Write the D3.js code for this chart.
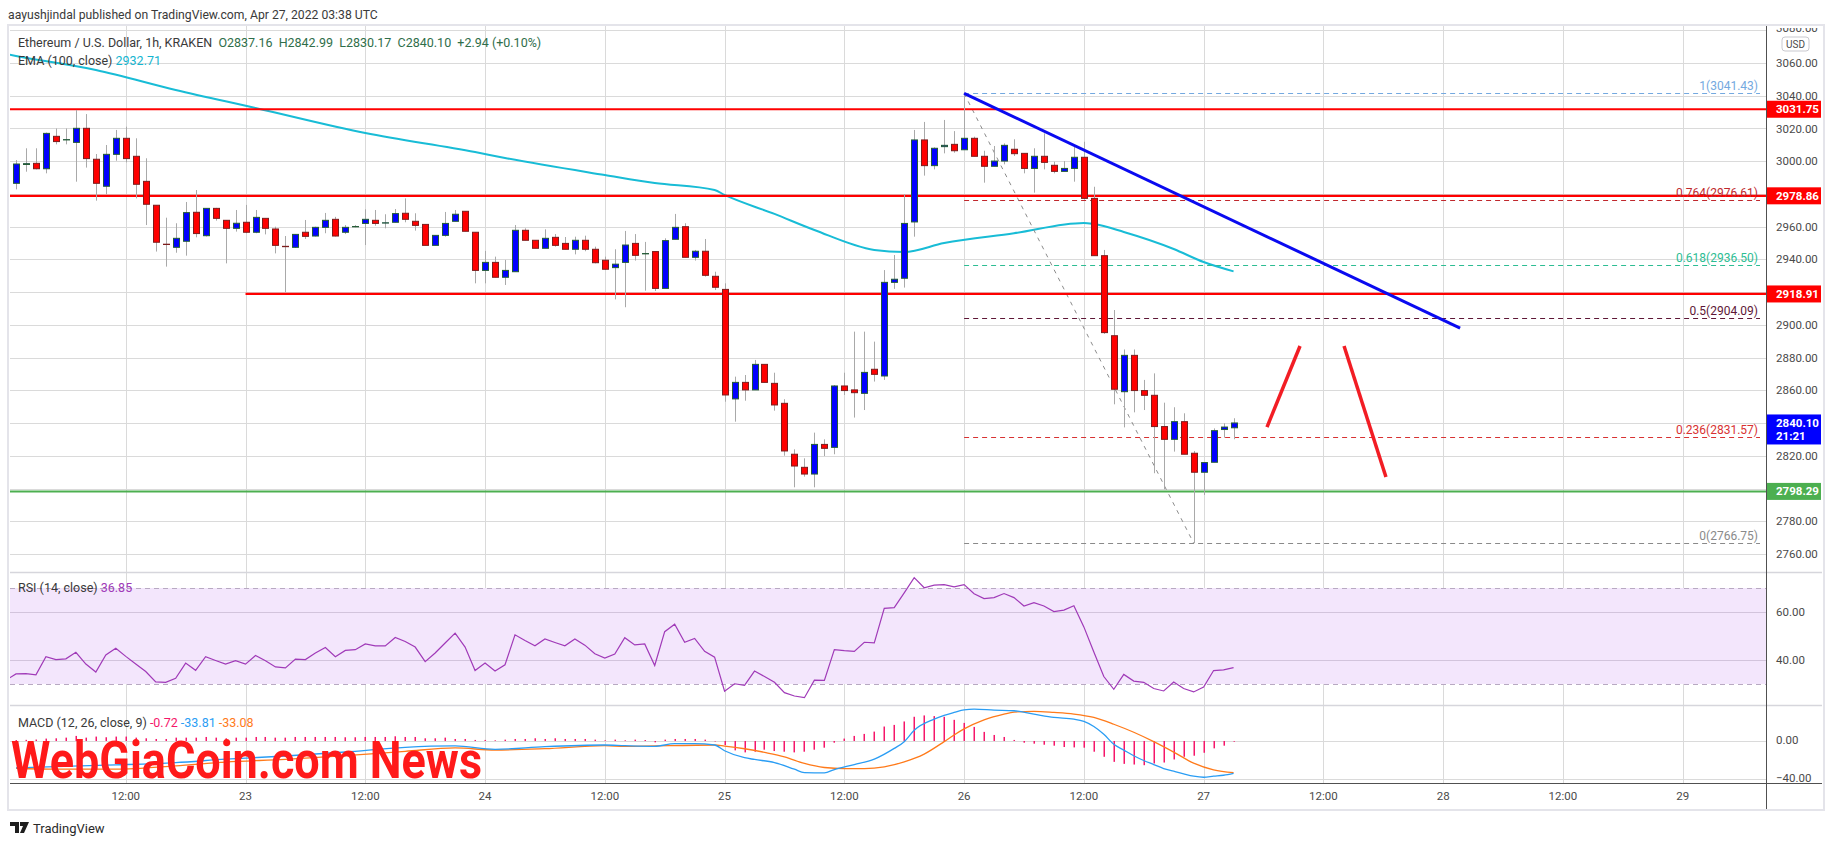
<!DOCTYPE html>
<html>
<head>
<meta charset="utf-8">
<script src="https://cdn.jsdelivr.net/npm/d3@7"></script>
<style>
  body { margin: 0; background: #fff; }
  text { font-family: Roboto, "Noto Sans", sans-serif; }
</style>
</head>
<body>
<svg id="chart" width="1834" height="845"></svg>
<script>
// ETH/USD 1h candles, first bar Apr 22 01:00 UTC
const firstBar = Date.UTC(2022, 3, 22, 1)
const HOUR = 3600 * 1000

const opens = [2986.5, 2998.0, 2998.7, 2995.4, 3015.2, 3013.0, 3011.5, 3020.1, 3001.2, 2984.7,
  3004.2, 3014.0, 3003.0, 2987.7, 2973.1, 2949.3, 2947.4, 2951.1, 2968.8, 2954.5,
  2971.2, 2963.9, 2959.0, 2962.7, 2956.6, 2965.1, 2958.6, 2948.0, 2947.4, 2956.6,
  2954.3, 2959.6, 2964.5, 2956.6, 2960.0, 2962.0, 2963.9, 2962.2, 2962.7, 2968.2,
  2963.3, 2961.4, 2948.6, 2954.7, 2963.3, 2969.4, 2956.6, 2933.3, 2938.2, 2929.1,
  2932.5, 2957.8, 2951.7, 2946.8, 2953.5, 2949.8, 2946.2, 2951.7, 2946.2, 2939.5,
  2935.0, 2938.2, 2949.8, 2943.4, 2944.8, 2922.3, 2952.3, 2960.0, 2941.3, 2945.0,
  2929.7, 2921.7, 2854.8, 2864.9, 2860.3, 2875.9, 2864.3, 2852.1, 2821.0, 2813.0,
  2808.9, 2827.0, 2825.2, 2862.7, 2860.3, 2858.2, 2872.9, 2868.8, 2926.0, 2928.5,
  2962.9, 3013.0, 2997.3, 3008.9, 3010.3, 3007.0, 3014.0, 3003.0, 2996.9, 3000.1,
  3007.3, 3004.8, 2995.6, 3003.0, 2997.5, 2993.8, 2995.6, 3002.4, 2977.3, 2942.3,
  2893.4, 2859.2, 2881.4, 2859.9, 2857.0, 2837.9, 2830.1, 2840.9, 2821.6, 2810.0,
  2816.1, 2836.1, 2837.16]
const highs = [3000.7, 3007.9, 3007.9, 3017.5, 3020.0, 3020.0, 3031.3, 3028.8, 3004.4, 3009.9,
  3019.1, 3021.1, 3014.0, 3001.8, 2973.1, 2965.5, 2962.1, 2975.1, 2982.4, 2971.2,
  2971.5, 2964.0, 2970.2, 2973.3, 2970.2, 2965.1, 2960.0, 2954.3, 2955.5, 2964.1,
  2960.0, 2968.4, 2966.0, 2961.0, 2961.0, 2970.6, 2970.2, 2967.6, 2970.8, 2977.3,
  2968.2, 2961.4, 2954.7, 2969.0, 2970.2, 2969.4, 2956.6, 2945.2, 2941.7, 2939.7,
  2961.0, 2959.0, 2951.7, 2958.4, 2955.5, 2953.7, 2953.9, 2954.5, 2947.8, 2941.7,
  2946.2, 2957.4, 2955.5, 2950.7, 2944.8, 2952.9, 2967.8, 2962.1, 2945.8, 2952.5,
  2932.5, 2925.4, 2868.4, 2869.4, 2878.6, 2875.9, 2870.8, 2854.6, 2824.0, 2818.5,
  2834.2, 2830.1, 2863.3, 2870.8, 2895.9, 2895.9, 2889.8, 2933.5, 2942.7, 2979.8,
  3019.1, 3024.0, 3008.5, 3025.2, 3018.4, 3041.43, 3015.0, 3006.4, 3009.3, 3010.9,
  3013.4, 3004.8, 3007.9, 3017.0, 2999.7, 3000.1, 3008.9, 3011.9, 2984.4, 2945.8,
  2909.1, 2885.0, 2885.0, 2866.4, 2870.4, 2852.5, 2849.7, 2846.0, 2823.0, 2815.9,
  2836.8, 2839.9, 2842.99]
const lows = [2982.8, 2993.6, 2995.0, 2992.6, 3010.3, 3010.3, 2987.5, 2996.1, 2975.9, 2979.8,
  3000.3, 2999.3, 2977.3, 2961.0, 2944.8, 2935.6, 2944.1, 2942.3, 2953.5, 2954.0,
  2963.7, 2937.6, 2957.0, 2956.0, 2956.0, 2955.3, 2943.7, 2919.9, 2947.0, 2952.5,
  2954.0, 2956.0, 2954.0, 2955.5, 2959.6, 2948.8, 2960.6, 2959.0, 2962.6, 2962.7,
  2957.6, 2948.6, 2948.6, 2953.9, 2963.3, 2957.2, 2925.4, 2925.4, 2929.1, 2924.4,
  2932.5, 2951.7, 2946.8, 2946.8, 2947.8, 2946.2, 2943.1, 2945.0, 2937.6, 2933.6,
  2915.6, 2910.8, 2939.3, 2920.9, 2920.7, 2922.3, 2952.3, 2941.3, 2939.3, 2929.5,
  2921.3, 2853.1, 2840.9, 2853.7, 2860.3, 2864.9, 2847.6, 2820.1, 2800.8, 2807.3,
  2800.8, 2819.9, 2821.0, 2857.2, 2843.4, 2848.0, 2865.4, 2866.4, 2922.0, 2922.8,
  2953.9, 2991.2, 2995.0, 3004.8, 3005.2, 3007.0, 3003.0, 2986.9, 2996.9, 2998.1,
  3003.2, 2992.6, 2980.8, 2995.0, 2992.6, 2993.8, 2987.5, 2976.7, 2942.3, 2894.5,
  2851.5, 2837.4, 2846.6, 2848.0, 2809.4, 2799.6, 2822.6, 2821.0, 2766.75, 2796.1,
  2816.1, 2831.1, 2830.17]
const closes = [2998.3, 2998.5, 2995.4, 3017.0, 3012.0, 3013.2, 3020.1, 3001.6, 2986.5, 3004.2,
  3014.0, 3001.6, 2985.9, 2973.7, 2950.5, 2949.2, 2952.9, 2968.6, 2955.8, 2971.2,
  2965.1, 2959.0, 2962.1, 2956.6, 2965.7, 2959.0, 2948.6, 2947.8, 2955.3, 2954.1,
  2959.6, 2963.9, 2954.3, 2959.6, 2960.1, 2964.5, 2962.0, 2962.4, 2968.0, 2964.5,
  2960.8, 2948.6, 2954.7, 2962.0, 2967.6, 2957.2, 2933.3, 2938.2, 2929.1, 2933.3,
  2957.8, 2951.7, 2946.8, 2952.9, 2948.6, 2946.2, 2951.7, 2946.2, 2938.0, 2934.0,
  2937.1, 2948.8, 2942.5, 2943.6, 2922.3, 2951.5, 2959.6, 2941.3, 2945.0, 2930.3,
  2923.0, 2857.2, 2864.9, 2860.3, 2875.9, 2864.9, 2851.1, 2823.0, 2813.8, 2808.9,
  2827.0, 2824.6, 2862.7, 2859.9, 2858.6, 2871.0, 2869.8, 2926.0, 2927.9, 2962.0,
  3013.0, 2997.3, 3007.9, 3009.7, 3006.4, 3014.0, 3003.0, 2996.9, 3000.1, 3009.7,
  3004.6, 2995.6, 3003.0, 2999.3, 2993.8, 2995.6, 3002.4, 2977.3, 2942.3, 2895.3,
  2860.7, 2881.4, 2859.9, 2857.0, 2837.9, 2830.1, 2840.9, 2821.0, 2810.0, 2815.9,
  2835.4, 2837.6, 2840.10]

// EMA(100) read at a few bars (bar index, value)
const emaBars = [-1, 0, 8, 16, 24, 35, 46, 49, 59, 64, 70, 71, 76, 80, 86, 89, 93, 100, 107, 108, 111, 116, 119, 122]
const emaValues = [3065.5, 3064.3, 3055.7, 3043.5, 3032.5, 3017.2, 3005.6, 3002.0, 2991.6, 2986.7, 2982.4, 2979.4,
  2967.8, 2958.0, 2945.8, 2944.5, 2950.0, 2956.0, 2962.3, 2961.6, 2956.8, 2946.4, 2938.4, 2932.71]

// RSI of the bar just left of the visible range, then one value per bar
const rsiBefore = 31.6
const rsi = [34.2, 34.3, 33.8, 41.4, 40.2, 40.5, 43.2, 38.3, 35.0, 42.1,
  44.9, 41.5, 38.3, 35.2, 30.9, 30.7, 32.4, 38.7, 35.7, 41.4,
  39.8, 38.3, 39.7, 38.3, 41.9, 39.7, 37.1, 36.7, 40.4, 40.2,
  42.9, 45.2, 41.4, 44.0, 44.3, 46.7, 45.9, 45.9, 49.4, 47.7,
  45.4, 39.3, 42.9, 47.1, 51.2, 45.4, 35.6, 38.7, 35.4, 38.0,
  50.5, 48.1, 45.9, 48.8, 47.3, 45.9, 48.8, 46.2, 42.6, 40.8,
  42.5, 49.3, 46.3, 46.7, 37.7, 51.8, 54.9, 47.4, 49.0, 43.6,
  41.2, 27.0, 30.1, 29.4, 35.4, 33.1, 30.7, 26.4, 25.0, 24.3,
  31.6, 31.5, 44.3, 43.9, 43.6, 47.4, 47.1, 61.5, 61.8, 68.0,
  74.3, 70.1, 71.2, 71.4, 70.5, 71.4, 67.6, 65.6, 66.0, 67.7,
  66.0, 62.5, 63.9, 62.5, 60.2, 60.8, 62.6, 53.8, 43.3, 33.1,
  27.8, 34.0, 31.2, 30.7, 28.1, 27.1, 30.8, 28.1, 26.7, 28.7,
  35.6, 35.9, 36.85]

const macdHist = [1.0, 1.2, 1.5, 2.5, 2.8, 3.5, 5.3, 3.5, 4.6, 3.9,
  4.6, 4.6, 3.5, 2.8, 2.1, 2.1, 3.5, 3.5, 3.5, 4.2,
  3.5, 2.8, 3.5, 3.5, 4.2, 4.2, 3.5, 3.5, 4.2, 4.2,
  4.2, 4.2, 4.2, 3.9, 3.9, 4.2, 4.2, 4.2, 4.9, 4.2,
  4.2, 2.8, 2.8, 3.5, 2.1, 2.1, 1.1, 1.1, 0.7, 1.4,
  2.1, 2.1, 2.8, 2.1, 2.8, 2.1, 2.1, 2.1, 1.4, 0.7,
  1.4, 0.7, 1.4, 1.0, -1.4, 1.4, 2.1, 2.1, 2.1, 1.4,
  -0.5, -4.2, -9.8, -11.9, -11.2, -9.1, -10.5, -11.2, -11.9, -11.2,
  -9.1, -7.0, -1.8, 2.5, 5.3, 7.4, 9.8, 15.1, 16.8, 20.4,
  25.3, 26.7, 26.0, 25.3, 22.1, 18.9, 14.7, 9.5, 6.3, 4.2,
  1.1, -1.8, -2.8, -3.9, -4.9, -6.3, -6.7, -7.0, -11.2, -16.5,
  -21.8, -23.9, -24.6, -25.3, -23.5, -22.5, -19.3, -16.5, -15.4, -12.3,
  -7.7, -4.9, -0.72]

const macdBars = [0, 4, 10, 16, 21, 27, 33, 39, 44, 48, 53, 59, 61, 64, 66, 68, 70, 71, 73, 74, 76, 78, 79, 81, 82,
  84, 86, 88, 89, 90, 92, 93, 94, 95, 96, 98, 100, 102, 104, 106, 107, 108, 109, 110, 111, 112, 113, 114,
  115, 116, 117, 118, 119, 120, 121, 122]
const macdValues = [-28.0, -26.8, -25.0, -22.6, -19.0, -15.7, -11.5, -6.6, -5.2, -8.7, -5.9, -4.2, -4.9, -5.6, -2.8,
  -2.8, -4.2, -10.2, -17.5, -19.3, -22.5, -29.5, -33.0, -33.3, -29.8, -24.6, -18.9, -7.7, -0.7, 11.2, 22.8,
  26.7, 29.8, 32.6, 33.3, 32.3, 31.6, 28.1, 24.6, 22.8, 20.4, 15.1, 7.0, -3.5, -9.5, -15.4, -20.4, -24.6,
  -28.8, -31.6, -34.4, -36.8, -37.9, -36.8, -35.8, -33.81]
const signalBars = [0, 4, 10, 16, 21, 27, 33, 39, 44, 48, 53, 59, 61, 70, 71, 73, 75, 77, 79, 81, 83, 85, 87, 89,
  91, 93, 94, 95, 97, 99, 100, 102, 104, 106, 108, 110, 112, 114, 116, 118, 120, 122]
const signalValues = [-28.5, -29.5, -29.5, -26.0, -22.0, -19.2, -15.4, -10.8, -7.3, -9.4, -8.0, -4.9, -5.6, -4.2,
  -5.3, -8.1, -11.9, -16.5, -23.5, -27.7, -28.8, -28.8, -27.0, -21.8, -13.7, -0.7, 6.3, 12.6, 22.1, 28.1,
  30.2, 30.9, 29.8, 28.1, 24.6, 17.5, 9.1, -0.7, -11.6, -23.2, -30.2, -33.08]

// drawn levels and lines
const redLevels = [3031.75, 2978.86, 2918.91]
const supportLevel = 2798.29
const fibRatios = ['1', '0.764', '0.618', '0.5', '0.236', '0']
const fibPrices = [3041.43, 2976.61, 2936.50, 2904.09, 2831.57, 2766.75]
const fibColors = ['#74a9e0', '#c0282d', '#2dbd93', '#5e1736', '#d83232', '#8a8a8a']
const trendBars = [95, 144.7]
const trendPrices = [3041.43, 2898.1]
const arrowUpBars = [125.35, 128.66]
const arrowUpPrices = [2837.6, 2887.1]
const arrowDownBars = [133.07, 137.27]
const arrowDownPrices = [2887.1, 2807.1]

const priceTicks = d3.range(2760, 3081, 20)
const lastPrice = 2840.10

const barTime = i => new Date(firstBar + i * HOUR)

const svg = d3.select('#chart')
const L = 10, R = 1766, AX = 1822
const priceTop = 26, priceBot = 572, rsiBot = 705, macdBot = 783, chartBot = 809

const x = d3.scaleUtc()
  .domain([new Date(Date.UTC(2022, 3, 22, 0, 24)), new Date(Date.UTC(2022, 3, 29, 8, 21))])
  .range([L, R])
const y = d3.scaleLinear().domain([2749.06, 3082.6]).range([priceBot, priceTop])
const yRsi = d3.scaleLinear().domain([21.25, 76.67]).range([rsiBot, priceBot])
const yMacd = d3.scaleLinear().domain([-43.9, 37.6]).range([macdBot, rsiBot])

const gridColor = '#dadada'

// frame
svg.append('rect').attr('x', 8).attr('y', priceTop - 1).attr('width', AX - 6).attr('height', chartBot - priceTop + 2)
  .attr('fill', '#fff').attr('stroke', '#e4e4ea').attr('stroke-width', 2)

svg.append('text').attr('x', 8).attr('y', 15).attr('dy', '0.35em')
  .attr('font-size', 12.2).attr('fill', '#3a3a3a')
  .text('aayushjindal published on TradingView.com, Apr 27, 2022 03:38 UTC')

const defs = svg.append('defs')
defs.append('clipPath').attr('id', 'clipPrice').append('rect')
  .attr('x', L).attr('y', priceTop).attr('width', R - L).attr('height', priceBot - priceTop)
defs.append('clipPath').attr('id', 'clipRsi').append('rect')
  .attr('x', L).attr('y', priceBot).attr('width', R - L).attr('height', rsiBot - priceBot)
defs.append('clipPath').attr('id', 'clipMacd').append('rect')
  .attr('x', L).attr('y', rsiBot).attr('width', R - L).attr('height', macdBot - rsiBot)
defs.append('clipPath').attr('id', 'clipAxis').append('rect')
  .attr('x', R).attr('y', priceTop + 2).attr('width', AX - R).attr('height', macdBot - priceTop - 2)

// vertical grid
const timeTicks = x.ticks(d3.utcHour.every(12))
svg.append('g').selectAll('line').data(timeTicks).enter().append('line')
  .attr('x1', d => Math.round(x(d)) + 0.5).attr('x2', d => Math.round(x(d)) + 0.5)
  .attr('y1', priceTop).attr('y2', macdBot)
  .attr('stroke', gridColor)

// horizontal price grid
svg.append('g').selectAll('line').data(priceTicks).enter().append('line')
  .attr('x1', L).attr('x2', R)
  .attr('y1', d => Math.round(y(d)) + 0.5).attr('y2', d => Math.round(y(d)) + 0.5)
  .attr('stroke', gridColor)

// RSI pane
const rsiG = svg.append('g').attr('clip-path', 'url(#clipRsi)')
rsiG.append('rect').attr('x', L).attr('width', R - L)
  .attr('y', yRsi(70)).attr('height', yRsi(30) - yRsi(70)).attr('fill', '#f3e6fc')
rsiG.selectAll('line.grid').data([60, 40]).enter().append('line')
  .attr('x1', L).attr('x2', R).attr('y1', d => Math.round(yRsi(d)) + 0.5).attr('y2', d => Math.round(yRsi(d)) + 0.5)
  .attr('stroke', '#d2c4dc')
rsiG.selectAll('line.band').data([70, 30]).enter().append('line')
  .attr('x1', L).attr('x2', R).attr('y1', d => Math.round(yRsi(d)) + 0.5).attr('y2', d => Math.round(yRsi(d)) + 0.5)
  .attr('stroke', '#b8a9c2').attr('stroke-dasharray', '5,4')
const rsiPts = [[-1, rsiBefore]].concat(rsi.map((v, i) => [i, v]))
rsiG.append('path').datum(rsiPts)
  .attr('d', d3.line().x(d => x(barTime(d[0]))).y(d => yRsi(d[1])))
  .attr('fill', 'none').attr('stroke', '#a03ab8').attr('stroke-width', 1.2)

// MACD pane
const macdG = svg.append('g').attr('clip-path', 'url(#clipMacd)')
macdG.selectAll('line.grid').data([0, -40]).enter().append('line')
  .attr('x1', L).attr('x2', R).attr('y1', d => Math.round(yMacd(d)) + 0.5).attr('y2', d => Math.round(yMacd(d)) + 0.5)
  .attr('stroke', gridColor)
macdG.selectAll('rect').data(macdHist).enter().append('rect')
  .attr('x', (d, i) => Math.round(x(barTime(i))) - 0.5)
  .attr('width', 1.5)
  .attr('y', d => Math.min(yMacd(0), yMacd(d)))
  .attr('height', d => Math.abs(yMacd(d) - yMacd(0)))
  .attr('fill', '#f5176a')
macdG.append('path').datum(signalBars)
  .attr('d', d3.line().curve(d3.curveMonotoneX).x(d => x(barTime(d))).y((d, i) => yMacd(signalValues[i])))
  .attr('fill', 'none').attr('stroke', '#ff7a1a').attr('stroke-width', 1.3)
macdG.append('path').datum(macdBars)
  .attr('d', d3.line().curve(d3.curveMonotoneX).x(d => x(barTime(d))).y((d, i) => yMacd(macdValues[i])))
  .attr('fill', 'none').attr('stroke', '#2a9df4').attr('stroke-width', 1.3)

// pane separators
svg.selectAll('line.sep').data([priceBot, rsiBot]).enter().append('line')
  .attr('x1', L).attr('x2', AX).attr('y1', d => d + 0.5).attr('y2', d => d + 0.5)
  .attr('stroke', '#d6d6dc').attr('stroke-width', 1.5)

// price pane
const pg = svg.append('g').attr('clip-path', 'url(#clipPrice)')

pg.append('path').datum(emaBars)
  .attr('d', d3.line().curve(d3.curveMonotoneX).x(d => x(barTime(d))).y((d, i) => y(emaValues[i])))
  .attr('fill', 'none').attr('stroke', '#18bcd6').attr('stroke-width', 2)

// fib retracement
const fibX0 = x(barTime(95)), fibX1 = 1760
pg.selectAll('line.fib').data(fibPrices).enter().append('line')
  .attr('x1', fibX0).attr('x2', fibX1)
  .attr('y1', d => Math.round(y(d)) + 0.5).attr('y2', d => Math.round(y(d)) + 0.5)
  .attr('stroke', (d, i) => fibColors[i]).attr('stroke-dasharray', '5,4')
pg.append('line')
  .attr('x1', x(barTime(95))).attr('y1', y(3041.43))
  .attr('x2', x(barTime(118))).attr('y2', y(2766.75))
  .attr('stroke', '#8c8c8c').attr('stroke-dasharray', '4,5')

// horizontal levels
pg.selectAll('line.lvl').data(redLevels).enter().append('line')
  .attr('x1', (d, i) => i === 2 ? x(barTime(23)) : L).attr('x2', R)
  .attr('y1', d => y(d)).attr('y2', d => y(d))
  .attr('stroke', '#ff0000').attr('stroke-width', 2.2)
pg.append('line').attr('x1', L).attr('x2', R).attr('y1', y(supportLevel)).attr('y2', y(supportLevel))
  .attr('stroke', '#4caf50').attr('stroke-width', 2)

// candles
const candles = opens.map((o, i) => ({ t: barTime(i), o: o, h: highs[i], l: lows[i], c: closes[i] }))
pg.selectAll('line.wick').data(candles).enter().append('line')
  .attr('x1', d => Math.round(x(d.t)) + 0.5).attr('x2', d => Math.round(x(d.t)) + 0.5)
  .attr('y1', d => y(d.h)).attr('y2', d => y(d.l))
  .attr('stroke', '#a9a9a9')
pg.selectAll('rect.body').data(candles).enter().append('rect')
  .attr('x', d => Math.round(x(d.t)) - 2.5)
  .attr('width', 6)
  .attr('y', d => y(Math.max(d.o, d.c)))
  .attr('height', d => Math.max(0.3, Math.abs(y(d.o) - y(d.c))))
  .attr('fill', d => d.c >= d.o ? '#0000ff' : '#ff0000')
  .attr('stroke', d => d.c >= d.o ? '#245c35' : '#7c1d1d')
  .attr('stroke-width', 1)

// trend line and arrows
const drawLine = (bars, prices, color, w) => pg.append('line')
  .attr('x1', x(barTime(bars[0]))).attr('y1', y(prices[0]))
  .attr('x2', x(barTime(bars[1]))).attr('y2', y(prices[1]))
  .attr('stroke', color).attr('stroke-width', w)
drawLine(trendBars, trendPrices, '#0a0af0', 3)
drawLine(arrowUpBars, arrowUpPrices, '#f21d24', 3.5)
drawLine(arrowDownBars, arrowDownPrices, '#f21d24', 3.5)

// fib labels
pg.selectAll('text.fib').data(fibPrices).enter().append('text')
  .attr('x', 1758).attr('y', d => y(d) - 3)
  .attr('text-anchor', 'end').attr('font-size', 12)
  .attr('fill', (d, i) => fibColors[i])
  .text((d, i) => fibRatios[i] + '(' + d3.format('.2f')(d) + ')')

// legends
const legend = svg.append('g').attr('font-size', 12.5)
const l1 = legend.append('text').attr('x', 18).attr('y', 43).attr('dy', '0.35em')
l1.append('tspan').attr('fill', '#3a3a3a').text('Ethereum / U.S. Dollar, 1h, KRAKEN ')
l1.append('tspan').attr('fill', '#2f6e4a').attr('xml:space', 'preserve')
  .text(' O2837.16  H2842.99  L2830.17  C2840.10  +2.94 (+0.10%)')
const l2 = legend.append('text').attr('x', 18).attr('y', 61).attr('dy', '0.35em')
l2.append('tspan').attr('fill', '#3a3a3a').text('EMA (100, close) ')
l2.append('tspan').attr('fill', '#14b5d0').text(' 2932.71')
const l3 = legend.append('text').attr('x', 18).attr('y', 588).attr('dy', '0.35em')
l3.append('tspan').attr('fill', '#3a3a3a').text('RSI (14, close) ')
l3.append('tspan').attr('fill', '#a03ab8').text(' 36.85')
const l4 = legend.append('text').attr('x', 18).attr('y', 723).attr('dy', '0.35em')
l4.append('tspan').attr('fill', '#3a3a3a').text('MACD (12, 26, close, 9) ')
l4.append('tspan').attr('fill', '#f5176a').text('  -0.72 ')
l4.append('tspan').attr('fill', '#2a9df4').text('  -33.81 ')
l4.append('tspan').attr('fill', '#ff7a1a').text('  -33.08')

// right axis
svg.append('line').attr('x1', R + 0.5).attr('x2', R + 0.5).attr('y1', priceTop).attr('y2', chartBot)
  .attr('stroke', '#505050')
svg.append('line').attr('x1', L).attr('x2', AX).attr('y1', macdBot + 0.5).attr('y2', macdBot + 0.5)
  .attr('stroke', '#505050')

const axisG = svg.append('g').attr('clip-path', 'url(#clipAxis)')
  .attr('font-size', 11.5).attr('fill', '#4a4a4a')
const boxPrices = redLevels.concat([supportLevel, lastPrice])
axisG.selectAll('text.pt').data(priceTicks.filter(p => boxPrices.every(b => Math.abs(y(b) - y(p)) > 12)))
  .enter().append('text')
  .attr('x', 1776).attr('y', d => y(d) - (d === 3080 ? 2 : 0)).attr('dy', '0.35em').text(d => d3.format('.2f')(d))
axisG.selectAll('text.rt').data([60, 40]).enter().append('text')
  .attr('x', 1776).attr('y', d => yRsi(d)).attr('dy', '0.35em').text(d => d3.format('.2f')(d))
axisG.selectAll('text.mt').data([0, -40]).enter().append('text')
  .attr('x', 1776).attr('y', d => yMacd(d) - 1).attr('dy', '0.35em')
  .text(d => d3.format('.2f')(d).replace('-', '\u2212'))

// USD badge
svg.append('rect').attr('x', 1782).attr('y', 37).attr('width', 27).attr('height', 14).attr('rx', 3)
  .attr('fill', '#fff').attr('stroke', '#c9c9cf')
svg.append('text').attr('x', 1795.5).attr('y', 44).attr('dy', '0.35em').attr('text-anchor', 'middle')
  .attr('font-size', 10).attr('fill', '#4a4a4a').text('USD')

// price boxes
const boxes = redLevels.map(p => ({ p: p, c: '#ff0000' })).concat([{ p: supportLevel, c: '#4caf50' }])
const bg = svg.append('g')
bg.selectAll('rect').data(boxes).enter().append('rect')
  .attr('x', R + 1).attr('width', 54).attr('y', d => y(d.p) - 8.5).attr('height', 17)
  .attr('fill', d => d.c)
bg.selectAll('text').data(boxes).enter().append('text')
  .attr('x', 1776).attr('y', d => y(d.p)).attr('dy', '0.35em')
  .attr('font-size', 11.5).attr('font-weight', 'bold').attr('fill', '#fff')
  .text(d => d3.format('.2f')(d.p))
bg.append('rect').attr('x', R + 1).attr('width', 54).attr('y', y(lastPrice) - 8.5).attr('height', 30)
  .attr('fill', '#0000ff')
bg.append('text').attr('x', 1776).attr('y', y(lastPrice)).attr('dy', '0.35em')
  .attr('font-size', 11.5).attr('font-weight', 'bold').attr('fill', '#fff').text('2840.10')
bg.append('text').attr('x', 1776).attr('y', y(lastPrice) + 13).attr('dy', '0.35em')
  .attr('font-size', 11.5).attr('font-weight', 'bold').attr('fill', '#fff').text('21:21')

// time axis labels
const tfmt = d => d.getUTCHours() === 0 ? String(d.getUTCDate()) : '12:00'
svg.append('g').attr('font-size', 11.5).attr('fill', '#4a4a4a')
  .selectAll('text').data(timeTicks.filter(d => x(d) > 20)).enter().append('text')
  .attr('x', d => x(d)).attr('y', 796).attr('dy', '0.35em').attr('text-anchor', 'middle')
  .text(tfmt)

// watermark
svg.append('text').attr('x', 11).attr('y', 778)
  .attr('font-family', '"DejaVu Serif Condensed", "DejaVu Serif", serif')
  .attr('font-weight', 'bold').attr('font-size', 52)
  .attr('textLength', 471).attr('lengthAdjust', 'spacingAndGlyphs')
  .attr('fill', '#ff1a1a')
  .text('WebGiaCoin.com News')

// footer logo
const logo = svg.append('g').attr('transform', 'translate(10,822)')
logo.append('path').attr('d', 'M0,0 H9 V11 H5 V4 H0 Z M10,0 H19 L14,11 H10 L13,4 H10 Z').attr('fill', '#1e1e1e')
svg.append('text').attr('x', 33).attr('y', 828).attr('dy', '0.35em')
  .attr('font-size', 13).attr('fill', '#2a2a2a').text('TradingView')
</script>
</body>
</html>
